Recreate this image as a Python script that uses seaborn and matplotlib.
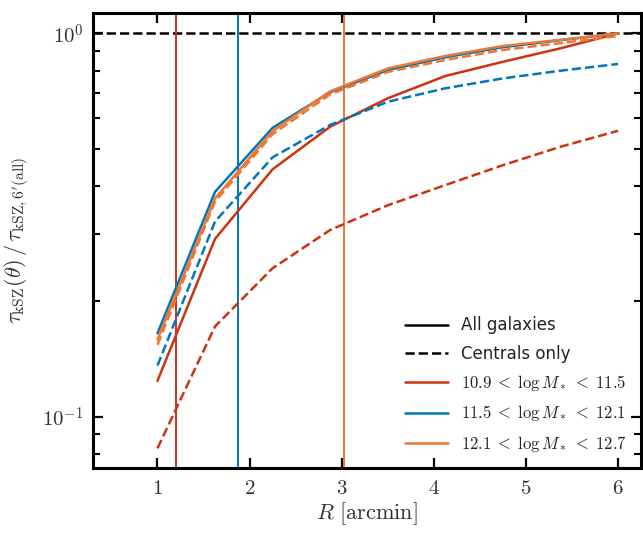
import numpy as np
import pandas as pd
import matplotlib
matplotlib.use("Agg")
import matplotlib.pyplot as plt
from matplotlib.lines import Line2D
import seaborn as sns

# Aperture radii (arcmin)
radius = [1.0, 1.625, 2.25, 2.875, 3.5, 4.125, 4.75, 5.375, 6.0]

# Normalised kSZ optical depth profiles, per stellar-mass bin
bins = ["10.9-11.5", "11.5-12.1", "12.1-12.7"]
bin_labels = [r"$10.9 \;<\; \log M_* \;<\; 11.5$",
              r"$11.5 \;<\; \log M_* \;<\; 12.1$",
              r"$12.1 \;<\; \log M_* \;<\; 12.7$"]

tau_all_low = [0.124, 0.291, 0.442, 0.571, 0.677, 0.774, 0.843, 0.914, 1.0]
tau_all_mid = [0.165, 0.386, 0.567, 0.702, 0.802, 0.866, 0.920, 0.960, 1.0]
tau_all_high = [0.159, 0.371, 0.556, 0.706, 0.810, 0.873, 0.927, 0.962, 1.0]

tau_cen_low = [0.0827, 0.172, 0.244, 0.307, 0.356, 0.402, 0.453, 0.506, 0.557]
tau_cen_mid = [0.136, 0.323, 0.475, 0.577, 0.663, 0.719, 0.763, 0.799, 0.832]
tau_cen_high = [0.154, 0.364, 0.546, 0.693, 0.793, 0.852, 0.905, 0.943, 0.984]

# Beam / characteristic scale per mass bin (arcmin)
scale_radius = [1.205, 1.87, 3.03]

colors = ["#CC3311", "#0077BB", "#EE7733"]

rows = []
for b, series in zip(bins, [tau_all_low, tau_all_mid, tau_all_high]):
    for r, t in zip(radius, series):
        rows.append({"R": r, "tau": t, "bin": b, "sample": "All"})
for b, series in zip(bins, [tau_cen_low, tau_cen_mid, tau_cen_high]):
    for r, t in zip(radius, series):
        rows.append({"R": r, "tau": t, "bin": b, "sample": "Centrals"})
df = pd.DataFrame(rows)

sns.set_theme(style="ticks")
plt.rcParams["mathtext.fontset"] = "cm"
plt.rcParams["font.family"] = ["DejaVu Sans"]

fig = plt.figure(figsize=(6.43, 5.33), dpi=100)
ax = fig.add_axes([0.1446, 0.122, 0.8524, 0.8536])

ax.axhline(1.0, color="black", lw=1.8, ls="--", zorder=1)
for xv, c in zip(scale_radius, colors):
    ax.axvline(xv, color=c, lw=1.4, zorder=1)

sns.lineplot(data=df, x="R", y="tau", hue="bin", style="sample",
             hue_order=bins, palette=colors,
             style_order=["All", "Centrals"],
             dashes={"All": "", "Centrals": (3.7, 1.6)},
             lw=1.8, legend=False, ax=ax, zorder=3)

ax.set_yscale("log")
ax.set_xlim(0.3, 6.25)
ax.set_ylim(0.0735, 1.13)

ax.set_xticks([1, 2, 3, 4, 5, 6])
ax.set_xticklabels([rf"${v}$" for v in [1, 2, 3, 4, 5, 6]])
ax.set_yticks([0.1, 1.0])
ax.set_yticklabels([r"$10^{-1}$", r"$10^{0}$"])
ax.xaxis.set_minor_locator(matplotlib.ticker.NullLocator())
ax.yaxis.set_minor_locator(matplotlib.ticker.LogLocator(base=10, subs=np.arange(2, 10)))
ax.yaxis.set_minor_formatter(matplotlib.ticker.NullFormatter())

ax.tick_params(which="both", direction="in", left=True, top=True, right=True,
               labelsize=15, color="black", labelcolor="#333333")
ax.tick_params(which="major", length=7, width=1.6, pad=7)
ax.tick_params(axis="y", which="minor", length=5, width=1.5,
               left=True, right=True)

for s in ax.spines.values():
    s.set_linewidth(2.2)
    s.set_color("black")

ax.set_xlabel(r"$R\ [\mathrm{arcmin}]$", fontsize=16, color="#333333", labelpad=2)
ax.set_ylabel(r"$\tau_{\mathrm{kSZ}}(\theta)\,/\,\tau_{\mathrm{kSZ},6^{\prime}(\mathrm{all})}$",
              fontsize=16, color="#333333", labelpad=8)

handles = [Line2D([], [], color="black", lw=1.8, ls="-"),
           Line2D([], [], color="black", lw=1.8, ls="--")]
labels = ["All galaxies", "Centrals only"]
for c, lab in zip(colors, bin_labels):
    handles.append(Line2D([], [], color=c, lw=1.8))
    labels.append(lab)
ax.legend(handles, labels, loc="lower right", frameon=False, fontsize=12,
          handlelength=2.6, handletextpad=0.8, labelspacing=0.62,
          borderaxespad=0.45, labelcolor="#222222")

fig.savefig("out.png", dpi=100)
